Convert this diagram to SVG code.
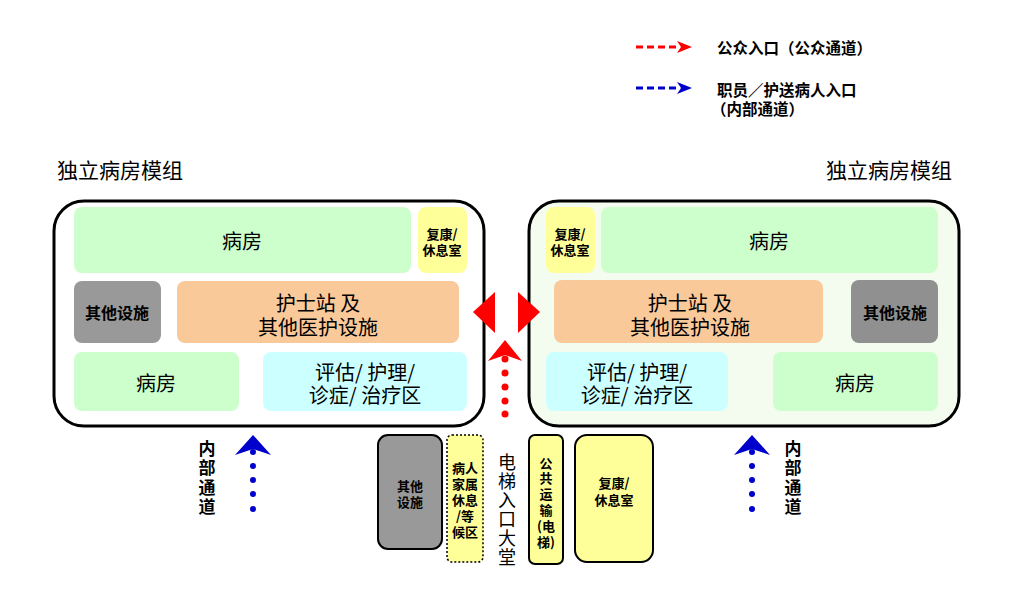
<svg xmlns="http://www.w3.org/2000/svg" width="1022" height="606" viewBox="0 0 1022 606">
<style>
text{font-family:"Noto Sans CJK SC","Liberation Sans",sans-serif;fill:#000;text-anchor:middle;dominant-baseline:central}
.big{font-size:20px}
.mid{font-size:16px;font-weight:bold}
.sm{font-size:13px;font-weight:bold}
.vt{font-size:17px;font-weight:bold;writing-mode:vertical-rl;letter-spacing:2.5px}
.lobby{font-size:18px;writing-mode:vertical-rl;letter-spacing:1px}
.title{font-size:21px;text-anchor:start}
.leg{font-size:15.5px;font-weight:bold;text-anchor:start}
.module{stroke:#000;stroke-width:3}
.green{fill:#ccffcc}
.yellow{fill:#ffff99}
.gray{fill:#999999}
.orange{fill:#fac99a}
.cyan{fill:#ccffff}
.rd{fill:#ff0000}
.bl{fill:#0000cc}
</style>
<rect width="1022" height="606" fill="#ffffff"/>

<g id="legend">
<line x1="636" y1="47" x2="679" y2="47" stroke="#ff0000" stroke-width="3" stroke-dasharray="7,4"/>
<polygon points="692,47 677,41 681,47 677,53" class="rd"/>
<text class="leg" x="717" y="47">公众入口（公众通道）</text>
<line x1="636" y1="88" x2="679" y2="88" stroke="#0000cc" stroke-width="3" stroke-dasharray="7,4"/>
<polygon points="692,88 677,82 681,88 677,94" class="bl"/>
<text class="leg" x="717" y="89">职员／护送病人入口</text>
<text class="leg" x="711" y="108">（内部通道）</text>
</g>

<g id="title-left"><text class="title" x="57" y="169">独立病房模组</text></g>
<g id="title-right"><text class="title" x="826" y="169">独立病房模组</text></g>

<g id="module-left">
<rect x="54" y="201" width="430" height="225" rx="30" fill="#ffffff" class="module"/>
<g id="L-ward-top"><rect x="74" y="207" width="337" height="66" rx="8" class="green"/><text class="big" x="242" y="240">病房</text></g>
<g id="L-rehab"><rect x="418" y="207" width="49" height="66" rx="8" class="yellow"/><text class="sm"><tspan x="442" y="233">复康/</tspan><tspan x="442" y="249">休息室</tspan></text></g>
<g id="L-other"><rect x="74" y="281" width="87" height="62" rx="8" class="gray"/><text class="mid" x="117" y="312">其他设施</text></g>
<g id="L-nurse"><rect x="177" y="281" width="282" height="62" rx="8" class="orange"/><text class="big"><tspan x="318" y="302">护士站 及</tspan><tspan x="318" y="326">其他医护设施</tspan></text></g>
<g id="L-ward-bottom"><rect x="74" y="352" width="165" height="59" rx="8" class="green"/><text class="big" x="156" y="382">病房</text></g>
<g id="L-assess"><rect x="263" y="352" width="204" height="59" rx="8" class="cyan"/><text class="big"><tspan x="365" y="371">评估/ 护理/</tspan><tspan x="365" y="394">诊症/ 治疗区</tspan></text></g>
</g>

<g id="module-right">
<rect x="529" y="201" width="430" height="225" rx="30" fill="#f3fcef" class="module"/>
<g id="R-rehab"><rect x="546" y="207" width="49" height="66" rx="8" class="yellow"/><text class="sm"><tspan x="570" y="233">复康/</tspan><tspan x="570" y="249">休息室</tspan></text></g>
<g id="R-ward-top"><rect x="601" y="207" width="337" height="66" rx="8" class="green"/><text class="big" x="769" y="240">病房</text></g>
<g id="R-nurse"><rect x="554" y="280" width="269" height="63" rx="8" class="orange"/><text class="big"><tspan x="690" y="302">护士站 及</tspan><tspan x="690" y="326">其他医护设施</tspan></text></g>
<g id="R-other"><rect x="851" y="280" width="87" height="63" rx="8" fill="#8f908f"/><text class="mid" x="895" y="312">其他设施</text></g>
<g id="R-assess"><rect x="546" y="352" width="182" height="59" rx="8" class="cyan"/><text class="big"><tspan x="637" y="371">评估/ 护理/</tspan><tspan x="637" y="394">诊症/ 治疗区</tspan></text></g>
<g id="R-ward-bottom"><rect x="773" y="352" width="165" height="59" rx="8" class="green"/><text class="big" x="855" y="382">病房</text></g>
</g>

<g id="bottom-other">
<rect x="378" y="435" width="64" height="114" rx="10" class="gray" stroke="#000" stroke-width="2"/>
<text class="sm"><tspan x="410" y="485">其他</tspan><tspan x="410" y="501">设施</tspan></text>
</g>
<g id="bottom-family">
<rect x="447" y="435" width="36" height="127" rx="5" class="yellow" stroke="#000" stroke-width="1.5" stroke-dasharray="2,2"/>
<text class="sm"><tspan x="465" y="467">病人</tspan><tspan x="465" y="483">家属</tspan><tspan x="465" y="499">休息</tspan><tspan x="465" y="515">/等</tspan><tspan x="465" y="531">候区</tspan></text>
</g>
<g id="lobby-label">
<text class="lobby" x="507" y="510">电梯入口大堂</text>
</g>
<g id="bottom-lift">
<rect x="529" y="435" width="34" height="129" rx="6" class="yellow" stroke="#000" stroke-width="2"/>
<text class="sm"><tspan x="546" y="462">公</tspan><tspan x="546" y="477">共</tspan><tspan x="546" y="493">运</tspan><tspan x="546" y="509">输</tspan><tspan x="546" y="525">(电</tspan><tspan x="546" y="541">梯)</tspan></text>
</g>
<g id="bottom-rehab">
<rect x="575" y="435" width="78" height="127" rx="12" class="yellow" stroke="#000" stroke-width="2"/>
<text class="sm"><tspan x="614" y="482">复康/</tspan><tspan x="614" y="499">休息室</tspan></text>
</g>

<g id="internal-left-label"><text class="vt" x="207" y="479">内部通道</text></g>
<g id="internal-right-label"><text class="vt" x="793" y="479">内部通道</text></g>

<g id="connectors">
<polygon points="473,312 495,292 495,333" class="rd"/>
<polygon points="540,312 518,292 518,333" class="rd"/>
<circle cx="505" cy="359" r="3.5" class="rd"/><circle cx="505" cy="373" r="3.5" class="rd"/><circle cx="505" cy="387" r="3.5" class="rd"/><circle cx="505" cy="401" r="3.5" class="rd"/><circle cx="505" cy="414" r="3.5" class="rd"/>
<polygon points="505,340 522,361 505,355 488,361" class="rd"/>
<circle cx="253" cy="452" r="3" class="bl"/><circle cx="253" cy="466" r="3" class="bl"/><circle cx="253" cy="480" r="3" class="bl"/><circle cx="253" cy="494" r="3" class="bl"/><circle cx="253" cy="509" r="3" class="bl"/>
<polygon points="253,435 271,455 253,449 235,455" class="bl"/>
<circle cx="752" cy="452" r="3" class="bl"/><circle cx="752" cy="466" r="3" class="bl"/><circle cx="752" cy="480" r="3" class="bl"/><circle cx="752" cy="494" r="3" class="bl"/><circle cx="752" cy="509" r="3" class="bl"/>
<polygon points="752,435 770,455 752,449 734,455" class="bl"/>
</g>
</svg>
